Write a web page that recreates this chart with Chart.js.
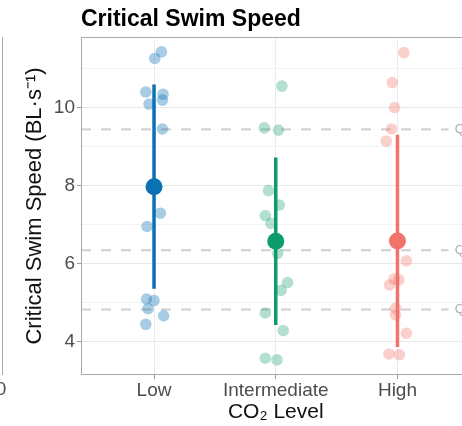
<!DOCTYPE html>
<html>
<head>
<meta charset="utf-8">
<script src="https://cdn.jsdelivr.net/npm/chart.js@4.4.1/dist/chart.umd.min.js"></script>
<style>
  html, body { margin: 0; padding: 0; background: #fff; overflow: hidden; }
  #swimchart { display: block; }
</style>
</head>
<body>
<canvas id="swimchart" width="479" height="426"></canvas>
<script>
// CO2 groups and their colours
const categories = ['Low', 'Intermediate', 'High'];
const groupColors = ['#0a72b4', '#0e9b6e', '#f2736a'];
const pointColors = ['rgba(10,114,180,0.36)', 'rgba(14,155,110,0.32)', 'rgba(242,115,106,0.34)'];

// individual fish (BL/s) + horizontal jitter
const lowSpeed = [11.44, 11.27, 10.41, 10.35, 10.20, 10.10, 9.46, 7.30, 6.96, 5.10, 5.06, 4.85, 4.67, 4.45];
const lowJitter = [0.061, 0.006, -0.068, 0.074, 0.069, -0.041, 0.069, 0.052, -0.057, -0.062, 0.000, -0.049, 0.079, -0.068];
const midSpeed = [10.56, 9.49, 9.43, 7.88, 7.51, 7.24, 7.04, 6.27, 5.52, 5.32, 4.74, 4.29, 3.58, 3.54];
const midJitter = [0.051, -0.094, 0.023, -0.059, 0.029, -0.086, -0.039, 0.015, 0.097, 0.043, -0.086, 0.061, -0.086, 0.010];
const highSpeed = [11.42, 10.65, 10.01, 9.46, 9.15, 6.08, 5.61, 5.59, 5.46, 4.86, 4.69, 4.22, 3.69, 3.67];
const highJitter = [0.052, -0.043, -0.024, -0.049, -0.092, 0.073, -0.029, 0.011, -0.065, -0.016, -0.016, 0.073, -0.070, 0.016];

// group means and +/- SD
const groupMeans = [7.98, 6.58, 6.59];
const groupSD = [2.62, 2.15, 2.72];

// dashed reference lines
const quantiles = [9.45, 6.35, 4.83];
const quantileLabels = ['Q3', 'Q2', 'Q1'];

const yTicks = [4, 5, 6, 7, 8, 9, 10, 11];

const FONT = "'Liberation Sans', Arial, sans-serif";

function jitterPoints(idx, vals, jit) {
  return vals.map((v, i) => ({ x: idx + 1 + jit[i], y: v }));
}

const datasets = [];

// means on top
datasets.push({
  data: groupMeans.map((m, i) => ({ x: i + 1, y: m })),
  backgroundColor: groupColors,
  borderWidth: 0,
  pointRadius: 8.5,
  order: 0
});

// error bars
groupMeans.forEach((m, i) => {
  datasets.push({
    data: [{ x: i + 1, y: m - groupSD[i] }, { x: i + 1, y: m + groupSD[i] }],
    showLine: true,
    borderColor: groupColors[i],
    borderWidth: 3.5,
    pointRadius: 0,
    order: 1
  });
});

// raw points
[[lowSpeed, lowJitter], [midSpeed, midJitter], [highSpeed, highJitter]].forEach((g, i) => {
  datasets.push({
    data: jitterPoints(i, g[0], g[1]),
    backgroundColor: pointColors[i],
    borderWidth: 0,
    pointRadius: 5.8,
    order: 2
  });
});

// dashed quantile lines
quantiles.forEach((q) => {
  datasets.push({
    data: [{ x: 0.4, y: q }, { x: 3.42, y: q }],
    showLine: true,
    borderColor: '#d0d0d0',
    borderWidth: 2,
    borderDash: [10, 10],
    pointRadius: 0,
    order: 3
  });
});

const panelDecor = {
  id: 'panelDecor',
  beforeDraw(chart) {
    const c = chart.ctx;
    c.save();
    c.fillStyle = '#fff';
    c.fillRect(0, 0, chart.width, chart.height);
    c.restore();
  },
  afterDraw(chart) {
    const c = chart.ctx;
    const a = chart.chartArea;
    const xs = chart.scales.x;
    const ys = chart.scales.y;
    c.save();
    // panel border
    c.strokeStyle = '#a8a8a8';
    c.lineWidth = 1;
    c.strokeRect(a.left + 0.5, a.top + 0.5, a.right - a.left - 1, a.bottom - a.top - 1);
    // edge of neighbouring panel
    c.beginPath();
    c.moveTo(2.5, a.top);
    c.lineTo(2.5, a.bottom);
    c.stroke();
    c.fillStyle = '#4d4d4d';
    c.font = '19px ' + FONT;
    c.textAlign = 'center';
    c.textBaseline = 'middle';
    c.fillText('0', 1, 390);
    // title
    c.fillStyle = '#000';
    c.font = 'bold 23px ' + FONT;
    c.textAlign = 'left';
    c.textBaseline = 'alphabetic';
    c.fillText('Critical Swim Speed', a.left, 26);
    // quantile labels
    c.fillStyle = '#b0b0b0';
    c.font = '13px ' + FONT;
    c.textBaseline = 'middle';
    quantiles.forEach((q, i) => {
      c.fillText(quantileLabels[i], xs.getPixelForValue(3.47), ys.getPixelForValue(q));
    });
    c.restore();
  }
};

const ctx = document.getElementById('swimchart').getContext('2d');
const swimChart = new Chart(ctx, {
  type: 'scatter',
  data: { datasets: datasets },
  plugins: [panelDecor],
  options: {
    responsive: false,
    animation: false,
    layout: { padding: { top: 37, right: 5, bottom: 0, left: 0 } },
    plugins: { legend: { display: false }, tooltip: { enabled: false } },
    scales: {
      x: {
        type: 'linear',
        min: 0.4,
        max: 3.6,
        afterBuildTicks: (scale) => { scale.ticks = categories.map((c, i) => ({ value: i + 1 })); },
        afterFit: (scale) => { scale.height = 51; },
        ticks: {
          callback: (v) => categories[Math.round(v) - 1],
          font: { family: FONT, size: 19 },
          color: '#4d4d4d',
          padding: 0,
          maxRotation: 0,
          autoSkip: false
        },
        grid: { color: '#ebebeb', tickLength: 4, tickColor: '#9a9a9a' },
        border: { display: false },
        title: {
          display: true,
          text: 'CO₂ Level',
          font: { family: FONT, size: 21 },
          color: '#111',
          padding: { top: 0, bottom: 1 }
        }
      },
      y: {
        type: 'linear',
        min: 3.15,
        max: 11.82,
        afterBuildTicks: (scale) => { scale.ticks = yTicks.map((v) => ({ value: v })); },
        afterFit: (scale) => { scale.width = 81; },
        ticks: {
          callback: (v) => (v % 2 === 0 ? String(v) : ''),
          font: { family: FONT, size: 19 },
          color: '#4d4d4d',
          padding: 2,
          autoSkip: false
        },
        grid: {
          color: (c) => (c.tick && c.tick.value % 2 === 0 ? '#e8e8e8' : '#f3f3f3'),
          tickColor: (c) => (c.tick && c.tick.value % 2 === 0 ? '#9a9a9a' : 'rgba(0,0,0,0)'),
          tickLength: 4
        },
        border: { display: false },
        title: {
          display: true,
          text: 'Critical Swim Speed (BL·s⁻¹)',
          font: { family: FONT, size: 22 },
          color: '#111',
          padding: { top: 22, bottom: 0 }
        }
      }
    }
  }
});
</script>
</body>
</html>
